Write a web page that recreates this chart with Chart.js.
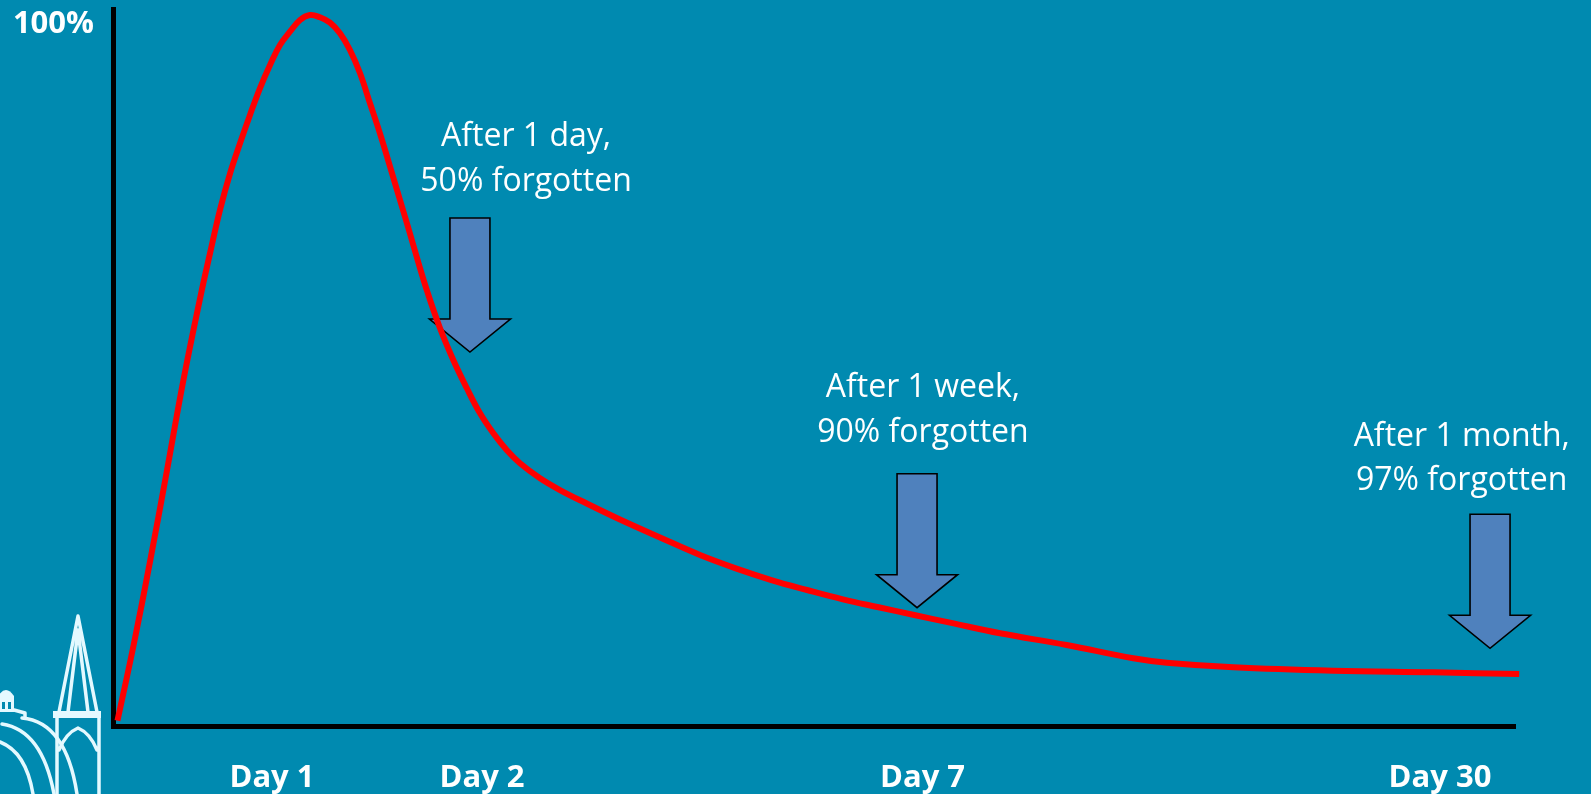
<!DOCTYPE html>
<html>
<head>
<meta charset="utf-8">
<script src="https://cdn.jsdelivr.net/npm/chart.js@4.4.1/dist/chart.umd.min.js"></script>
<style>
  html, body { margin: 0; padding: 0; background: #008AB0; overflow: hidden; }
  #wrap { width: 1591px; height: 794px; }
</style>
</head>
<body>
<div id="wrap"><canvas id="c" width="1591" height="794"></canvas></div>
<script>
// ---- Data (x: relative time position 0-100 along the axis, y: % retained) ----
const curveX = [0.32, 1.45, 2.64, 3.83, 5.01, 6.26, 6.92, 7.63, 8.35, 9.06,
  9.77, 10.48, 11.20, 11.91, 12.62, 13.34, 14.05, 14.76, 15.48, 16.19,
  16.90, 17.62, 18.33, 19.04, 19.76, 20.47, 21.18, 21.78, 22.38, 23.32,
  24.27, 25.23, 26.18, 27.13, 28.08, 29.03, 30.46, 31.88, 33.79, 36.16,
  39.02, 41.87, 44.42, 46.96, 49.51, 52.06, 54.61, 57.15, 59.70, 63.27,
  68.02, 72.77, 75.16, 79.91, 87.04, 94.17, 100.30];
const curveY = [0.74, 11.09, 22.93, 35.43, 48.12, 60.11, 65.93, 71.97, 77.08, 81.27,
  85.22, 88.94, 92.19, 94.98, 96.83, 98.47, 99.16, 98.84, 98.09, 96.61,
  94.28, 91.03, 86.85, 82.66, 78.01, 73.36, 68.69, 64.64, 60.81, 55.51,
  51.05, 47.14, 43.61, 40.82, 38.49, 36.64, 34.55, 32.91, 31.03, 28.80,
  26.29, 23.85, 21.99, 20.36, 18.97, 17.67, 16.56, 15.48, 14.41, 12.93,
  11.30, 9.44, 8.83, 8.19, 7.71, 7.49, 7.25];

const dayTickLabels = ['Day 1', 'Day 2', 'Day 7', 'Day 30'];
const dayTickPositions = [11.34, 26.32, 57.74, 94.65];
const yTickLabels = ['100%'];
const yTickValues = [100];

const annotationLines = [
  ['After 1 day,', '50% forgotten'],
  ['After 1 week,', '90% forgotten'],
  ['After 1 month,', '97% forgotten']
];
const annotationTextX = [29.46, 57.77, 96.20];
const annotationTextY = [74.66, 39.65, 32.91];
const arrowX = [25.46, 57.35, 98.22];
const arrowTipY = [52.16, 16.50, 10.84];

// ---- Styles ----
const BG = '#008AB0';
const ARROW_FILL = '#4F81BD';
const TEXT_FONT = '32px "Open Sans", "Noto Sans", sans-serif';
const BOLD_FONT = 'bold 31px "Open Sans", "Noto Sans", sans-serif';

const bgPlugin = {
  id: 'bg',
  beforeDraw(chart) {
    const ctx = chart.ctx;
    ctx.save();
    ctx.fillStyle = BG;
    ctx.fillRect(0, 0, chart.width, chart.height);
    ctx.restore();
  }
};

const arrowPlugin = {
  id: 'arrows',
  beforeDatasetsDraw(chart) {
    const ctx = chart.ctx, xs = chart.scales.x, ys = chart.scales.y;
    const len = 134, head = 33, shaftHalf = 20, headHalf = 40.5;
    ctx.save();
    arrowX.forEach((xv, i) => {
      const tx = xs.getPixelForValue(xv);
      const ty = ys.getPixelForValue(arrowTipY[i]);
      const top = ty - len, hb = ty - head;
      ctx.beginPath();
      ctx.moveTo(tx - shaftHalf, top);
      ctx.lineTo(tx + shaftHalf, top);
      ctx.lineTo(tx + shaftHalf, hb);
      ctx.lineTo(tx + headHalf, hb);
      ctx.lineTo(tx, ty);
      ctx.lineTo(tx - headHalf, hb);
      ctx.lineTo(tx - shaftHalf, hb);
      ctx.closePath();
      ctx.fillStyle = ARROW_FILL;
      ctx.fill();
      ctx.lineWidth = 1.6;
      ctx.strokeStyle = '#000';
      ctx.lineJoin = 'miter';
      ctx.stroke();
    });
    ctx.restore();
  }
};

const textPlugin = {
  id: 'texts',
  afterDraw(chart) {
    const ctx = chart.ctx, xs = chart.scales.x, ys = chart.scales.y;
    const area = chart.chartArea;
    ctx.save();
    ctx.fillStyle = '#FFFFFF';
    ctx.font = TEXT_FONT;
    ctx.textAlign = 'center';
    ctx.textBaseline = 'alphabetic';
    annotationLines.forEach((lines, i) => {
      const cx = xs.getPixelForValue(annotationTextX[i]);
      const by = ys.getPixelForValue(annotationTextY[i]);
      for (let k = 0; k < lines.length; k++) {
        ctx.fillText(lines[k], cx, by - (lines.length - 1 - k) * 44.5);
      }
    });
    ctx.font = BOLD_FONT;
    dayTickLabels.forEach((lab, i) => {
      ctx.fillText(lab, xs.getPixelForValue(dayTickPositions[i]), area.bottom + 61);
    });
    ctx.textAlign = 'right';
    yTickLabels.forEach((lab, i) => {
      ctx.fillText(lab, area.left - 19, ys.getPixelForValue(yTickValues[i]) + 24);
    });
    ctx.restore();
  }
};

const logoPlugin = {
  id: 'logo',
  afterDraw(chart) {
    const ctx = chart.ctx;
    ctx.save();
    ctx.strokeStyle = '#E4F9FF';
    ctx.fillStyle = '#E4F9FF';
    ctx.lineWidth = 3.5;
    ctx.lineCap = 'round';
    ctx.lineJoin = 'round';
    ctx.beginPath();
    ctx.moveTo(59, 712); ctx.lineTo(78, 616); ctx.lineTo(97, 712);
    ctx.moveTo(68, 712); ctx.lineTo(78, 630); ctx.lineTo(88, 712);
    ctx.stroke();
    ctx.fillRect(53, 711, 48, 7);
    ctx.beginPath();
    ctx.moveTo(57, 718); ctx.lineTo(57, 794);
    ctx.moveTo(99, 718); ctx.lineTo(99, 794);
    ctx.moveTo(59, 750); ctx.quadraticCurveTo(66, 733, 78, 728);
    ctx.quadraticCurveTo(90, 733, 97, 750);
    ctx.stroke();
    ctx.beginPath();
    ctx.moveTo(-2, 712); ctx.lineTo(-2, 696);
    ctx.quadraticCurveTo(6, 684, 14, 696);
    ctx.lineTo(14, 712); ctx.closePath();
    ctx.fill();
    ctx.fillStyle = '#008AB0';
    ctx.fillRect(2, 702, 3, 7);
    ctx.fillRect(8, 702, 3, 7);
    ctx.beginPath();
    ctx.moveTo(14, 710); ctx.lineTo(25, 713); ctx.lineTo(25, 718);
    ctx.stroke();
    ctx.beginPath();
    ctx.moveTo(2, 724); ctx.quadraticCurveTo(42, 730, 54, 794);
    ctx.moveTo(22, 718); ctx.quadraticCurveTo(66, 722, 77, 794);
    ctx.moveTo(0, 742); ctx.quadraticCurveTo(26, 752, 33, 794);
    ctx.stroke();
    ctx.restore();
  }
};

const chart = new Chart(document.getElementById('c'), {
  type: 'line',
  data: {
    datasets: [{
      data: curveX.map((x, i) => ({ x: x, y: curveY[i] })),
      borderColor: '#FF0000',
      borderWidth: 6,
      pointRadius: 0,
      tension: 0.4,
      fill: false,
      clip: false
    }]
  },
  options: {
    responsive: false,
    devicePixelRatio: 1,
    animation: false,
    events: [],
    layout: { padding: { left: 113, top: 9, right: 76, bottom: 68 } },
    plugins: { legend: { display: false }, tooltip: { enabled: false } },
    scales: {
      x: {
        type: 'linear', min: 0, max: 100,
        grid: { display: false, drawTicks: false },
        ticks: { display: false },
        border: { display: true, color: '#000', width: 5 },
        afterFit(s) { s.height = 0; }
      },
      y: {
        type: 'linear', min: 0, max: 100,
        grid: { display: false, drawTicks: false },
        ticks: { display: false },
        border: { display: true, color: '#000', width: 5 },
        afterFit(s) { s.width = 0; }
      }
    }
  },
  plugins: [bgPlugin, arrowPlugin, textPlugin, logoPlugin]
});
</script>
</body>
</html>
